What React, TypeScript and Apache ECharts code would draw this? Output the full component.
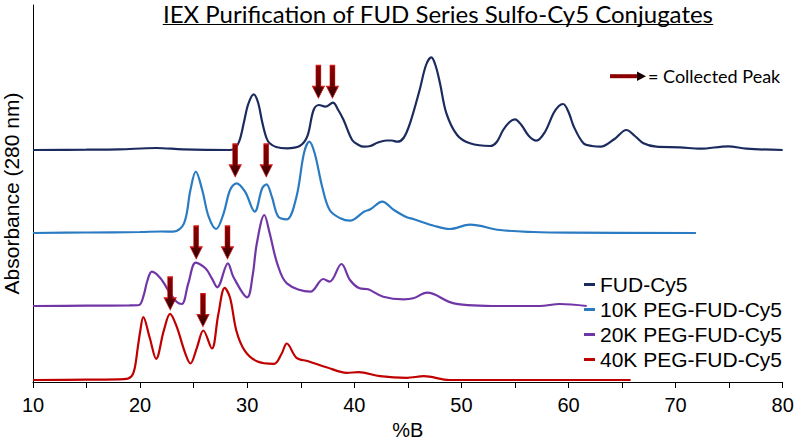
import React, { useEffect, useRef } from "react";
import * as echarts from "echarts";

const chartTitle = "IEX Purification of FUD Series Sulfo-Cy5 Conjugates";
const seriesNames = ["FUD-Cy5", "10K PEG-FUD-Cy5", "20K PEG-FUD-Cy5", "40K PEG-FUD-Cy5"];
const seriesColors = ["#1c2b5e", "#2b7bc3", "#7136a6", "#c00000"];
const xTickValues = [10, 20, 30, 40, 50, 60, 70, 80];
// vertical stacking offset of each trace (arbitrary absorbance units)
const traceOffsets = [232, 149, 76, 2];

// [%B, absorbance above own baseline]
const fudCy5: number[][] = [
  [10, 0], [15, 0.3], [18, 0.6], [21.5, 2], [24, 0.6], [28.4, 0], [28.9, 2], [29.3, 10],
  [29.7, 28], [30.1, 46], [30.6, 55.7], [31.0, 48], [31.4, 28], [31.8, 12], [32.1, 6.7],
  [32.7, 3], [33.7, 1.7], [34.9, 4], [35.6, 13.3], [36.2, 40], [36.7, 45], [37.3, 43.3],
  [38.0, 47.3], [38.5, 40], [39.0, 30], [39.8, 10], [40.4, 5], [40.9, 3.3], [41.5, 4],
  [42.2, 7.5], [43.0, 9.5], [43.5, 9.5], [44.0, 8.3], [44.6, 12], [45.2, 26.7], [46.1, 60],
  [46.7, 85], [47.2, 92.7], [47.6, 84], [48.0, 66.7], [48.6, 36.7], [49.6, 15], [50.8, 6.7],
  [52.7, 4], [53.3, 8], [53.9, 20], [54.5, 28], [55.0, 30.7], [55.6, 25], [56.3, 14],
  [57.0, 9.3], [57.8, 18], [58.6, 36.7], [59.1, 44], [59.5, 46], [60.0, 38], [60.5, 23.3],
  [61.4, 6.7], [62.2, 4], [63.0, 3.3], [64.3, 11], [65.4, 20], [66.2, 14], [67.0, 6.7],
  [68.2, 3.3], [70.4, 2.7], [72.3, 1.3], [74.9, 3.7], [76.6, 1.3], [80, 0],
];
const peg10k: number[][] = [
  [10, 0], [15, 0.5], [20, 1], [22, 1.5], [23.1, 1.3], [24.1, 9.7], [24.7, 43], [25.2, 61.3],
  [25.8, 43], [26.4, 16.3], [27.1, 4], [27.8, 19.7], [28.4, 43], [29.0, 49.7], [29.8, 41.3],
  [30.7, 21.3], [31.4, 44.7], [31.8, 48.7], [32.3, 36.3], [32.9, 16.3], [33.7, 13.7],
  [34.6, 36.3], [35.3, 79.7], [35.8, 91.3], [36.3, 79.7], [37.0, 46.3], [37.7, 23],
  [38.7, 14.7], [39.6, 12.3], [40.9, 21.3], [41.5, 23.7], [42.6, 31.3], [43.7, 23],
  [44.9, 15.7], [45.5, 14], [47.5, 7], [48.9, 4], [50.8, 8.3], [53.6, 3], [56.7, 1],
  [60, 0.3], [71.9, 0],
];
const peg20k: number[][] = [
  [10, 0], [15, 0.3], [19, 0.6], [19.9, 1], [20.3, 9.3], [20.7, 26], [21.1, 34.3], [21.9, 27.7],
  [22.8, 12.7], [23.4, 4.3], [23.9, 2], [24.5, 22.7], [25.2, 43.3], [26.1, 37.7], [26.7, 27.7],
  [27.2, 18.7], [28.2, 42.7], [28.7, 29.3], [30.0, 8.7], [30.5, 30], [30.9, 62.7], [31.6, 91],
  [32.1, 72.7], [32.8, 42.7], [33.7, 22.7], [35.9, 14.3], [37.1, 27], [37.7, 24.3], [38.8, 42],
  [39.6, 26], [40.5, 17.7], [41.3, 16.7], [42.7, 9.3], [44.6, 6.7], [45.5, 7.7], [46.8, 13.3],
  [49.3, 2.7], [53.6, 0], [57.3, 0], [59.2, 2], [61.7, 0],
];
const peg40k: number[][] = [
  [10, 0], [15, 0.3], [18.5, 0.8], [19.2, 3.8], [19.5, 12], [19.8, 33.8], [20.0, 48],
  [20.3, 62.8], [20.9, 42.2], [21.5, 21.2], [22.2, 48.8], [22.8, 66.2], [23.4, 53.8],
  [24.2, 27.2], [24.7, 16.5], [25.3, 32.2], [25.9, 49.5], [26.7, 31.5], [27.3, 65.5],
  [27.9, 92.2], [28.4, 82.2], [29.0, 48.8], [29.8, 28.8], [30.9, 18.8], [32.5, 16.2],
  [33.2, 26], [33.7, 36.5], [34.6, 22.2], [35.7, 18.8], [37.4, 12.8], [39.3, 7.2], [40.4, 7.8],
  [42.4, 3.8], [44.9, 2.2], [46.5, 3.8], [48.9, 0], [65.8, 0],
];
const traces = [fudCy5, peg10k, peg20k, peg40k];

// collected peaks: [%B, arrow tip height above own baseline]
const collectedFud = [[36.65, 51.7], [37.96, 51.7]];
const collected10k = [[28.88, 56], [31.78, 56]];
const collected20k = [[25.24, 47], [28.16, 47]];
const collected40k = [[22.81, 70], [25.87, 53.3]];
const collected = [collectedFud, collected10k, collected20k, collected40k];

const arrowPath = "path://M3.5,0 L8.5,0 L8.5,21 L12,21 L6,33 L0,21 L3.5,21 Z";
const SANS = "Arial";

export default function App() {
  const ref = useRef<HTMLDivElement>(null);
  useEffect(() => {
    document.body.style.margin = "0";
    if (!ref.current) return;
    const chart = echarts.init(ref.current, undefined, { renderer: "svg" });

    const titleFont = `24px Lato`;
    const cv = document.createElement("canvas").getContext("2d")!;
    cv.font = titleFont;
    const tw = cv.measureText(chartTitle).width;
    const tcx = 438;

    const arrowColor = new echarts.graphic.LinearGradient(0, 0, 0, 1, [
      { offset: 0, color: "#8e0000" },
      { offset: 0.6, color: "#6a0000" },
      { offset: 1, color: "#1a0000" },
    ]);

    const series = traces.map((tr, i) => ({
      name: seriesNames[i],
      type: "line",
      smooth: 0.35,
      showSymbol: false,
      symbol: "none",
      lineStyle: { width: 2.2, color: seriesColors[i] },
      itemStyle: { color: seriesColors[i] },
      data: tr.map(([x, v]) => [x, v + traceOffsets[i]]),
      markPoint: {
        symbol: arrowPath,
        symbolSize: [12, 33],
        symbolOffset: [0, "-50%"],
        label: { show: false },
        itemStyle: { color: arrowColor, borderColor: "#d41a1a", borderWidth: 0.8 },
        data: collected[i].map(([x, h]) => ({ coord: [x, h + traceOffsets[i]] })),
      },
    }));

    chart.setOption({
      animation: false,
      grid: { left: 33, right: 14.3, top: 5, bottom: 58, containLabel: false, outerBoundsMode: "none" },
      legend: {
        orient: "vertical",
        left: 584,
        top: 274,
        padding: 0,
        itemWidth: 11,
        itemHeight: 3,
        itemGap: 4,
        icon: "rect",
        data: seriesNames,
        textStyle: { fontFamily: SANS, fontSize: 21, color: "#000", lineHeight: 21 },
      },
      xAxis: {
        type: "value",
        min: 10,
        max: 80,
        interval: 5,
        axisLine: { lineStyle: { color: "#000", width: 1 } },
        axisTick: { length: 6, lineStyle: { color: "#000" } },
        axisLabel: {
          formatter: (v: number) => (xTickValues.includes(v) ? String(v) : ""),
          fontFamily: SANS,
          fontSize: 20,
          color: "#000",
          margin: 13,
        },
        splitLine: { show: false },
        name: "%B",
        nameLocation: "middle",
        nameGap: 35,
        nameTextStyle: { fontFamily: SANS, fontSize: 20, color: "#000" },
      },
      yAxis: {
        type: "value",
        min: 0,
        max: 377,
        axisLine: { show: true, lineStyle: { color: "#000", width: 1 } },
        axisTick: { show: false },
        axisLabel: { show: false },
        splitLine: { show: false },
        name: "Absorbance (280 nm)",
        nameLocation: "middle",
        nameGap: 11,
        nameTextStyle: { fontFamily: SANS, fontSize: 21, color: "#000" },
      },
      graphic: [
        {
          type: "text",
          x: tcx,
          y: 13,
          style: { text: chartTitle, font: titleFont, fill: "#000", textAlign: "center", textVerticalAlign: "middle" },
        },
        {
          type: "line",
          shape: { x1: tcx - tw / 2, y1: 24.5, x2: tcx + tw / 2, y2: 24.5 },
          style: { stroke: "#000", lineWidth: 1.2 },
        },
        {
          type: "rect",
          shape: { x: 610, y: 74.2, width: 28, height: 4 },
          style: { fill: "#8b0000" },
        },
        {
          type: "polygon",
          shape: { points: [[637, 71.5], [646, 76.2], [637, 81]] },
          style: { fill: "#1a0000" },
        },
        {
          type: "text",
          x: 648,
          y: 76,
          style: { text: "= Collected Peak", font: `18px Lato`, fill: "#000", textAlign: "left", textVerticalAlign: "middle" },
        },
      ],
      series,
    });
    return () => chart.dispose();
  }, []);
  return <div ref={ref} style={{ position: "absolute", left: 0, top: 0, width: 797, height: 440 }} />;
}
